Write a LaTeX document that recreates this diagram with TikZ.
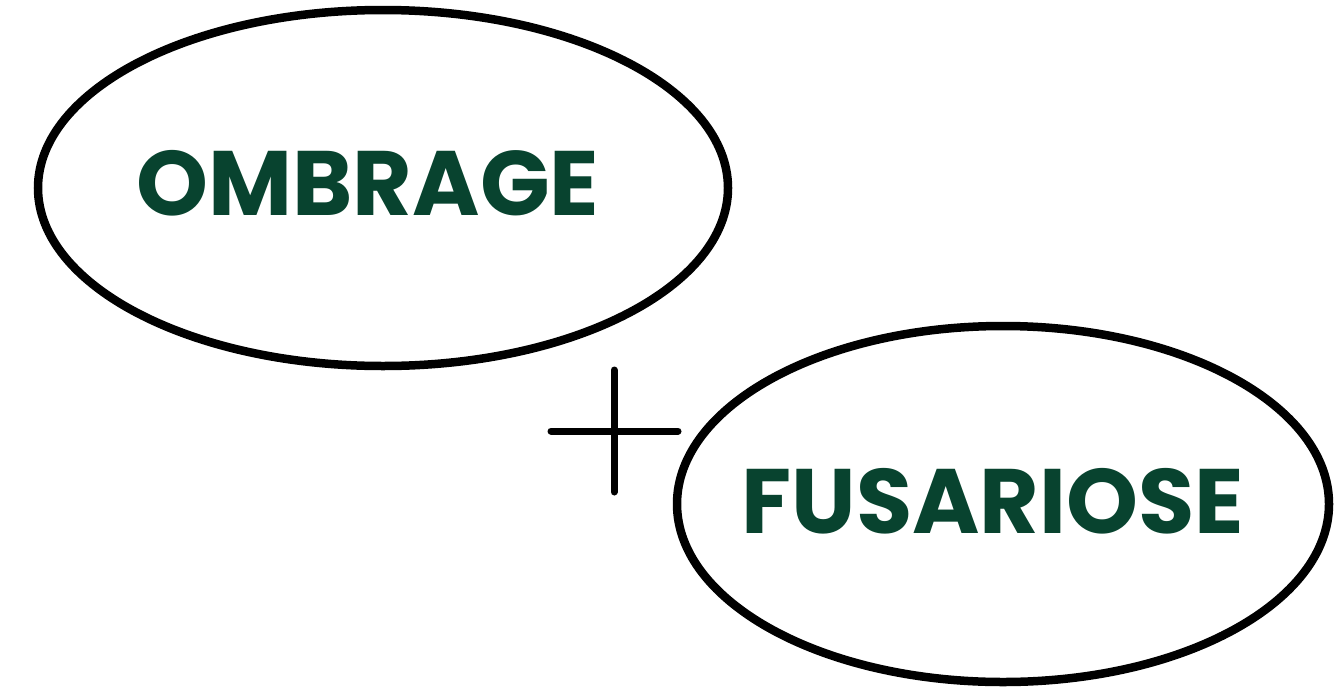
\documentclass[tikz,border=0pt]{standalone}
\usepackage{fontspec}
\newfontfamily\pop{Poppins}
\usetikzlibrary{shapes.geometric}
\definecolor{dkgreen}{HTML}{08432F}
\begin{document}
\begin{tikzpicture}[x=1pt,y=-1pt,
  oval/.style={draw=black,line width=8.5pt,ellipse},
  lbl/.style={text=dkgreen,font=\pop\bfseries\fontsize{91.5}{92}\selectfont,inner sep=0pt},
  plusline/.style={line width=7pt,line cap=round}]
\useasboundingbox (0,0) rectangle (1337,688);
\draw[oval] (383,188) ellipse [x radius=345,y radius=178];
\draw[oval] (1003,504) ellipse [x radius=326,y radius=178];
\node[lbl] (om) at (368,183) {OMBRAGE};
\node[lbl] (fu) at (993,501) {FUSARIOSE};
\coordinate (pl) at (551,431);
\coordinate (pr) at (678,431);
\coordinate (pt) at (614,370);
\coordinate (pb) at (614,492);
\draw[plusline] (pl) -- (pr);
\draw[plusline] (pt) -- (pb);
\end{tikzpicture}
\end{document}
